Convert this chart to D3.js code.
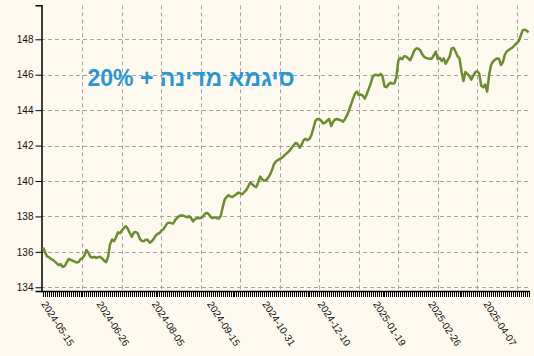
<!DOCTYPE html>
<html>
<head>
<meta charset="utf-8">
<script src="https://cdn.jsdelivr.net/npm/d3@7"></script>
<style>
  html, body { margin: 0; padding: 0; background: #fdf9ef; }
  svg { display: block; }
</style>
</head>
<body>
<svg id="chart" width="534" height="356"></svg>
<script>
const titleText = "סיגמא מדינה + 20%";
const values = [
136.25,136.0,135.75,135.7,135.6,135.55,135.45,135.35,135.25,135.3,
135.15,135.2,135.4,135.6,135.55,135.5,135.45,135.4,135.42,135.58,
135.65,135.8,136.1,135.95,135.72,135.68,135.72,135.66,135.7,135.72,
135.62,135.5,135.42,135.75,136.45,136.7,136.6,136.82,137.1,137.05,
137.2,137.35,137.45,137.3,137.05,136.85,137.1,137.12,137.05,136.75,
136.62,136.6,136.68,136.68,136.52,136.58,136.72,136.9,137.02,137.05,
137.2,137.28,137.45,137.62,137.65,137.62,137.6,137.8,137.92,138.02,
138.05,138.05,138.0,137.95,138.02,137.9,137.72,137.85,137.9,137.9,
137.92,137.98,138.15,138.2,138.12,137.95,137.9,137.95,137.9,137.88,
138.0,138.5,138.95,139.1,139.2,139.12,139.1,139.18,139.25,139.35,
139.3,139.25,139.38,139.5,139.7,139.92,139.82,139.72,139.65,139.92,
140.25,140.1,140.02,140.05,140.18,140.35,140.62,140.95,141.1,141.18,
141.25,141.3,141.42,141.52,141.62,141.72,141.88,142.02,142.15,142.08,
141.88,142.05,142.3,142.38,142.3,142.38,142.6,142.98,143.4,143.5,
143.48,143.4,143.25,143.3,143.42,143.5,143.1,143.35,143.48,143.5,
143.46,143.42,143.35,143.5,143.7,143.98,144.3,144.62,144.92,145.05,
144.85,144.88,144.82,144.65,144.9,145.2,145.5,145.88,146.0,145.98,
145.95,146.05,145.92,145.35,145.3,145.45,145.55,145.5,145.52,145.85,
146.8,146.95,146.88,147.05,147.02,146.92,146.82,147.05,147.35,147.48,
147.48,147.4,147.18,147.02,146.95,146.92,146.9,146.92,147.1,147.3,
146.88,146.95,146.78,146.92,146.62,146.82,147.02,147.48,147.52,147.3,
147.05,146.92,146.2,145.65,146.15,146.05,145.92,145.72,145.95,146.15,
146.2,146.05,145.38,145.3,145.45,145.05,146.0,146.55,146.75,146.85,
146.92,146.9,146.55,146.72,147.15,147.32,147.4,147.48,147.55,147.68,
147.78,147.9,148.2,148.5,148.55,148.48,148.4
];
const xTickLabels = ["2024-05-15","2024-06-26","2024-08-05","2024-09-15","2024-10-31","2024-12-10","2025-01-19","2025-02-26","2025-04-07"];
const xLabelStep = 28;
const xGridStep = 20;
const yTicks = [134,136,138,140,142,144,146,148];
const yDomain = [133.79, 149.92];

const svg = d3.select("#chart");
const pLeft = 41, pRight = 530, pTop = 5.3, pBottom = 291;

const x = d3.scaleLinear().domain([0, values.length - 1]).range([43, 528.6]);
const y = d3.scaleLinear().domain(yDomain).range([pBottom, pTop]);

svg.append("rect").attr("width", 534).attr("height", 356).attr("fill", "#fdf9ef");

// grid
const grid = svg.append("g").attr("stroke", "#a3a3a3").attr("stroke-width", 1).attr("stroke-dasharray", "4,3");
yTicks.forEach(t => {
  grid.append("line").attr("x1", pLeft).attr("x2", pRight)
    .attr("y1", Math.round(y(t)) + 0.5).attr("y2", Math.round(y(t)) + 0.5);
});
d3.range(xGridStep, values.length, xGridStep).forEach(i => {
  grid.append("line").attr("y1", pTop).attr("y2", pBottom)
    .attr("x1", Math.round(x(i)) + 0.5).attr("x2", Math.round(x(i)) + 0.5);
});

// y axis
const yAxis = d3.axisLeft(y).tickValues(yTicks).tickSize(6).tickSizeOuter(6);
const gy = svg.append("g").attr("transform", `translate(${pLeft + 0.5},0)`).call(yAxis);
gy.selectAll("text").attr("font-family", "Liberation Sans, Arial, sans-serif").attr("font-size", 10).attr("fill", "#111").attr("x", -8);
gy.select(".domain").attr("stroke", "#000").attr("stroke-width", 1.5);
gy.selectAll(".tick line").attr("stroke", "#000");

// x axis: a tick for every point
const gx = svg.append("g").attr("transform", `translate(0,${pBottom})`);
gx.append("line").attr("x1", pLeft).attr("x2", pRight).attr("y1", 0.5).attr("y2", 0.5).attr("stroke", "#000").attr("stroke-width", 1.5);
gx.selectAll("line.t").data(values).join("line").attr("class", "t")
  .attr("x1", (d, i) => Math.round(x(i)) + 0.5).attr("x2", (d, i) => Math.round(x(i)) + 0.5)
  .attr("y1", 0).attr("y2", 6).attr("stroke", "#000").attr("stroke-width", 1);
gx.selectAll("text").data(xTickLabels).join("text")
  .attr("transform", (d, i) => `translate(${x(i * xLabelStep) - 2},${13}) rotate(57)`)
  .attr("font-family", "Liberation Sans, Arial, sans-serif").attr("font-size", 10).attr("fill", "#111")
  .attr("text-anchor", "start")
  .text(d => d);

// line
const line = d3.line().x((d, i) => x(i)).y(d => y(d)).curve(d3.curveLinear);
svg.append("path").datum(values).attr("d", line)
  .attr("fill", "none").attr("stroke", "#6b8c2f").attr("stroke-width", 2.5).attr("stroke-linejoin", "round");

// title
svg.append("text").attr("x", 191).attr("y", 86)
  .attr("direction", "rtl").attr("unicode-bidi", "embed")
  .attr("text-anchor", "middle")
  .attr("font-family", "Liberation Sans, Arial, sans-serif").attr("font-weight", "bold").attr("font-size", 23)
  .attr("fill", "#2a96d2")
  .text(titleText);
</script>
</body>
</html>
